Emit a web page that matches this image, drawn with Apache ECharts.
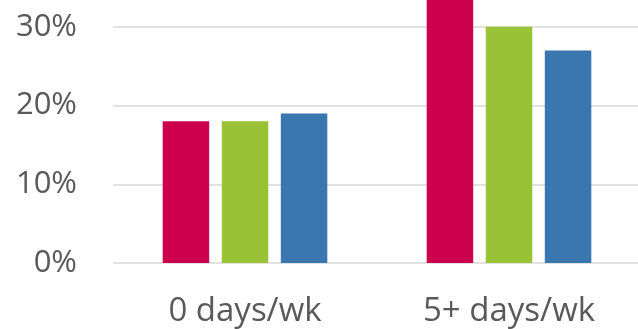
<!DOCTYPE html>
<html>
<head>
<meta charset="utf-8">
<script src="https://cdn.jsdelivr.net/npm/echarts@6/dist/echarts.min.js"></script>
<style>
  html, body { margin: 0; padding: 0; background: #fff; overflow: hidden; }
  #chart { width: 638px; height: 329px; }
</style>
</head>
<body>
<div id="chart"></div>
<script>
// categories and series values (percent)
const categories = ['0 days/wk', '5+ days/wk']
const seriesA = [18, 36]
const seriesB = [18, 30]
const seriesC = [19, 27]
const colors = ['#cc004c', '#99c236', '#3a77ae']

const chart = echarts.init(document.getElementById('chart'))

const fontFamily = '"Open Sans", sans-serif'

function bar (name, data, color) {
  return {
    name: name,
    type: 'bar',
    data: data,
    barWidth: 46.5,
    barGap: '27%',
    itemStyle: { color: color }
  }
}

chart.setOption({
  animation: false,
  // the 40% row lies above the visible area, so the grid starts above the top edge
  grid: {
    left: 113,
    right: -3,
    top: -52,
    bottom: 66,
    outerBoundsMode: 'none',
    containLabel: false
  },
  xAxis: {
    type: 'category',
    data: categories,
    axisLine: { show: false },
    axisTick: { show: false },
    axisLabel: {
      color: '#595959',
      fontSize: 33,
      fontFamily: fontFamily,
      margin: 32
    }
  },
  yAxis: {
    type: 'value',
    min: 0,
    max: 40,
    interval: 10,
    axisLine: { show: false },
    axisTick: { show: false },
    axisLabel: {
      color: '#595959',
      fontSize: 31,
      fontFamily: fontFamily,
      margin: 36,
      formatter: '{value}%'
    },
    splitLine: {
      lineStyle: { color: '#d9d9d9', width: 1.5 }
    }
  },
  series: [
    bar('A', seriesA, colors[0]),
    bar('B', seriesB, colors[1]),
    bar('C', seriesC, colors[2])
  ]
})
</script>
</body>
</html>
